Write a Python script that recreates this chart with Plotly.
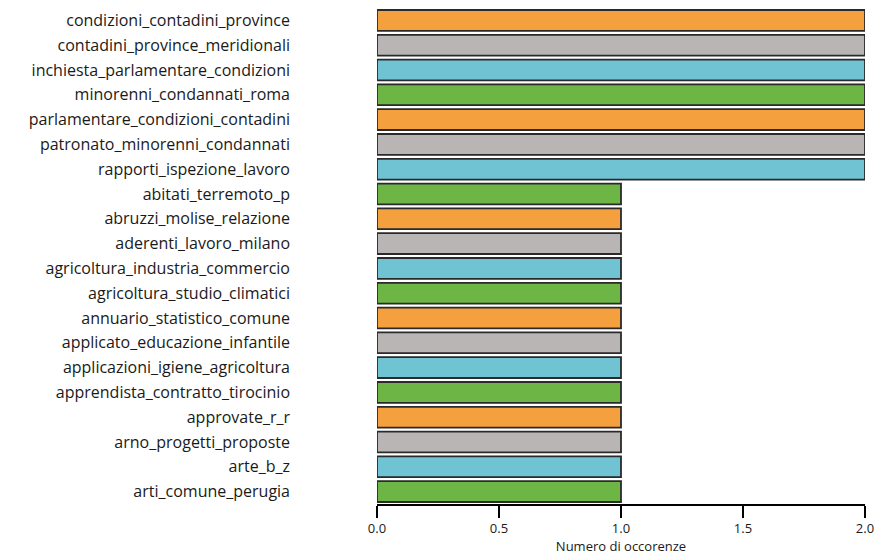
import plotly.graph_objects as go

categories = [
    "condizioni_contadini_province",
    "contadini_province_meridionali",
    "inchiesta_parlamentare_condizioni",
    "minorenni_condannati_roma",
    "parlamentare_condizioni_contadini",
    "patronato_minorenni_condannati",
    "rapporti_ispezione_lavoro",
    "abitati_terremoto_p",
    "abruzzi_molise_relazione",
    "aderenti_lavoro_milano",
    "agricoltura_industria_commercio",
    "agricoltura_studio_climatici",
    "annuario_statistico_comune",
    "applicato_educazione_infantile",
    "applicazioni_igiene_agricoltura",
    "apprendista_contratto_tirocinio",
    "approvate_r_r",
    "arno_progetti_proposte",
    "arte_b_z",
    "arti_comune_perugia",
]
values = [2, 2, 2, 2, 2, 2, 2, 1, 1, 1, 1, 1, 1, 1, 1, 1, 1, 1, 1, 1]
palette = ["#F5A03E", "#B9B5B5", "#6FC3D3", "#6DB545"]
colors = [palette[i % 4] for i in range(len(categories))]
x_ticks = [0.0, 0.5, 1.0, 1.5, 2.0]
x_title = "Numero di occorenze"

fig = go.Figure(go.Bar(
    x=values, y=categories, orientation="h",
    marker=dict(color=colors, line=dict(color="#2a2a2a", width=1.8)),
))
fig.update_layout(
    width=882, height=547,
    margin=dict(l=369, r=25, t=0, b=51),
    paper_bgcolor="white", plot_bgcolor="white",
    bargap=0.16,
    font=dict(family="Open Sans", color="#1a1a1a"),
    showlegend=False,
)
fig.update_xaxes(
    range=[0, 2.0], tickvals=x_ticks, ticktext=[f"{v:.1f}" for v in x_ticks],
    showline=True, linecolor="black", linewidth=1.5,
    ticks="outside", ticklen=12, tickwidth=1.5, tickcolor="black",
    showgrid=False, zeroline=False, automargin=False,
    tickfont=dict(size=13),
    title=dict(text=x_title, font=dict(size=13), standoff=0),
)
fig.update_yaxes(
    autorange="reversed", showgrid=False, showline=False, zeroline=False,
    ticks="", tickfont=dict(size=16), ticklabelstandoff=86, automargin=False,
)
fig.write_html("out.html")
